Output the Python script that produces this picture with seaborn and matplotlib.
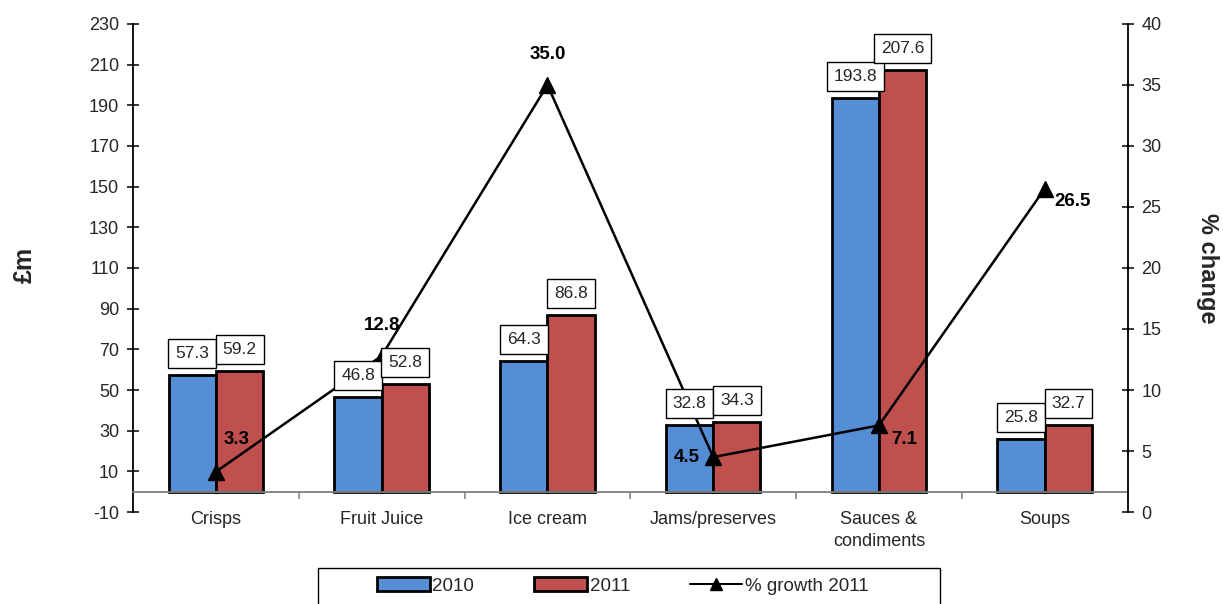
import numpy as np
import pandas as pd
import matplotlib
matplotlib.use("Agg")
import matplotlib.pyplot as plt
from matplotlib.patches import Patch, Rectangle
from matplotlib.lines import Line2D
import seaborn as sns

categories = ["Crisps", "Fruit Juice", "Ice cream", "Jams/preserves", "Sauces &\ncondiments", "Soups"]
values_2010 = [57.3, 46.8, 64.3, 32.8, 193.8, 25.8]
values_2011 = [59.2, 52.8, 86.8, 34.3, 207.6, 32.7]
growth_2011 = [3.3, 12.8, 35.0, 4.5, 7.1, 26.5]
left_ticks = list(range(-10, 231, 20))
right_ticks = list(range(0, 41, 5))

sns.set_theme(style="white")
plt.rcParams["font.family"] = ["Liberation Sans", "DejaVu Sans"]
plt.rcParams["axes.unicode_minus"] = False

blue = "#558ED5"
red = "#C0504D"
txt = "#262626"

df = pd.DataFrame({
    "category": categories * 2,
    "value": values_2010 + values_2011,
    "year": ["2010"] * 6 + ["2011"] * 6,
})

fig = plt.figure(figsize=(12.23, 6.04), dpi=100)
ax = fig.add_axes([0.1088, 0.1523, 0.8132, 0.8080])

sns.barplot(data=df, x="category", y="value", hue="year", palette=[blue, red],
            order=categories, hue_order=["2010", "2011"], width=0.57, gap=0,
            saturation=1, edgecolor="black", linewidth=2.0, ax=ax, legend=False, zorder=2)

ax.set_xlim(-0.5, 5.5)
ax.set_ylim(-10, 230)
ax.set_yticks(left_ticks)
ax.set_ylabel("£m", fontsize=18, fontweight="bold", va="center")
ax.yaxis.set_label_coords(-0.1085, 0.506)
ax.set_xlabel("")
for s in ["top", "right"]:
    ax.spines[s].set_visible(False)
ax.spines["left"].set_color("black")
ax.spines["left"].set_linewidth(1.3)
ax.spines["bottom"].set_position(("data", 0))
ax.spines["bottom"].set_color("#808080")
ax.spines["bottom"].set_linewidth(1.3)
ax.tick_params(axis="y", which="major", direction="inout", length=8, width=1.1,
               color="black", labelsize=13, labelcolor=txt, left=True, pad=6)
ax.tick_params(axis="x", which="major", length=0, labelsize=13, labelcolor=txt, pad=14)
for lbl in ax.get_xticklabels():
    lbl.set_linespacing(1.35)
ax.set_xticks(np.arange(len(categories)) + 0.5, minor=True)
ax.tick_params(axis="x", which="minor", direction="out", length=5, width=1.1, color="#808080", bottom=True)

ax2 = ax.twinx()
ax2.set_ylim(0, 40)
ax2.set_yticks(right_ticks)
for s in ["top", "left", "bottom"]:
    ax2.spines[s].set_visible(False)
ax2.spines["right"].set_color("black")
ax2.spines["right"].set_linewidth(1.3)
ax2.tick_params(axis="y", direction="inout", length=8, width=1.1, color="black",
                labelsize=13, labelcolor=txt, right=True, pad=6)
ax2.set_ylabel("% change", fontsize=17, fontweight="bold", rotation=270, va="center")
ax2.yaxis.set_label_coords(1.080, 0.50)
ax2.grid(False)
ax.grid(False)

xpos = np.arange(len(categories))
ax2.plot(xpos, growth_2011, color="black", linewidth=1.8, marker="^", markersize=11, zorder=3)

offsets = [(15, 23), (0, 22), (0, 22), (-19, 0), (18, -10), (20, -9)]
for x, g, off in zip(xpos, growth_2011, offsets):
    ax2.annotate(f"{g:.1f}", xy=(x, g), xytext=off, textcoords="offset points",
                 ha="center", va="center", fontsize=13.5, fontweight="bold", color="black", zorder=2.5)

# value boxes above bars (drawn on ax2 so they sit above the line)
for container in ax.containers:
    for patch in container:
        cx = patch.get_x() + patch.get_width() / 2
        h = patch.get_height()
        ax2.annotate(f"{h:.1f}", xy=(cx, h), xycoords=ax.transData,
                     xytext=(0, 10), textcoords="offset points", ha="center", va="bottom",
                     fontsize=12.5, color=txt, zorder=5,
                     bbox=dict(boxstyle="square,pad=0.4", fc="white", ec="black", lw=1.0))

handles = [Patch(facecolor=blue, edgecolor="black", linewidth=2.0, label="2010"),
           Patch(facecolor=red, edgecolor="black", linewidth=2.0, label="2011"),
           Line2D([0], [0], color="black", linewidth=1.5, marker="^", markersize=8, label="% growth 2011")]
leg = fig.legend(handles=handles, loc="center", bbox_to_anchor=(623 / 1223, 1 - 586 / 604), ncol=3,
                 fontsize=13.5, frameon=False,
                 handlelength=2.8, handleheight=0.7, handletextpad=0.15, columnspacing=3.2,
                 borderpad=0.0, borderaxespad=0)
# legend frame (extends past the bottom edge as in the reference)
fig.patches.append(Rectangle((318 / 1223, -0.05), (940 - 318) / 1223, 0.05 + (604 - 568) / 604,
                             transform=fig.transFigure, fill=False, edgecolor="black", lw=1.0))

fig.savefig("out.png", dpi=100)
